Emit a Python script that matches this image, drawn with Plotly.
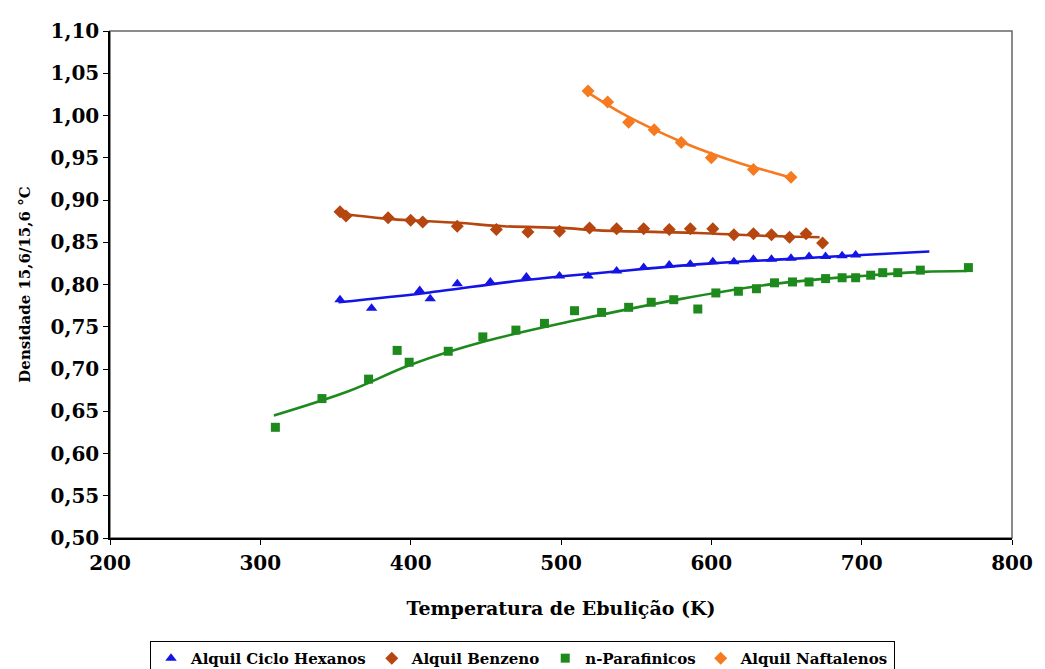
import plotly.graph_objects as go

# Alquil Ciclo Hexanos (triangles)
ach_x = [353, 374, 406, 413, 431, 453, 477, 499, 518, 537, 555, 572, 586, 601, 615, 628, 640, 653, 665, 676, 687, 696]
ach_y = [0.782, 0.772, 0.793, 0.783, 0.801, 0.803, 0.809, 0.810, 0.810, 0.816, 0.820, 0.823, 0.824, 0.827,
         0.827, 0.830, 0.830, 0.831, 0.833, 0.833, 0.834, 0.835]
ach_fit_x = [352, 410, 475, 540, 600, 650, 700, 745]
ach_fit_y = [0.779, 0.790, 0.805, 0.816, 0.825, 0.830, 0.835, 0.839]

# Alquil Benzeno (diamonds)
ab_x = [353, 357, 385, 400, 408, 431, 457, 478, 499, 519, 537, 555, 572, 586, 601, 615, 628, 640, 652, 663, 674]
ab_y = [0.886, 0.881, 0.879, 0.876, 0.874, 0.869, 0.865, 0.862, 0.863, 0.867, 0.866, 0.866, 0.865, 0.866,
        0.866, 0.859, 0.860, 0.859, 0.856, 0.860, 0.849]
ab_fit_x = [353, 383, 431, 462, 501, 525, 591, 630, 672]
ab_fit_y = [0.884, 0.878, 0.873, 0.869, 0.867, 0.864, 0.861, 0.858, 0.856]

# n-Parafinicos (squares)
np_x = [310, 341, 372, 391, 399, 425, 448, 470, 489, 509, 527, 545, 560, 575, 591, 603, 618, 630, 642,
        654, 665, 676, 687, 696, 706, 714, 724, 739, 771]
np_y = [0.631, 0.665, 0.688, 0.722, 0.708, 0.721, 0.738, 0.746, 0.754, 0.769, 0.767, 0.773, 0.779, 0.782,
        0.771, 0.790, 0.792, 0.795, 0.802, 0.803, 0.803, 0.807, 0.808, 0.808, 0.811, 0.814, 0.814, 0.817, 0.820]
np_fit_x = [309, 359, 400, 450, 508, 580, 643, 706, 741, 770]
np_fit_y = [0.645, 0.674, 0.705, 0.733, 0.757, 0.783, 0.801, 0.811, 0.815, 0.816]

# Alquil Naftalenos (diamonds, orange)
an_x = [518, 531, 545, 562, 580, 600, 628, 653]
an_y = [1.029, 1.016, 0.992, 0.983, 0.968, 0.950, 0.936, 0.927]
an_fit_x = [518, 540, 560, 580, 600, 620, 640, 653]
an_fit_y = [1.027, 1.003, 0.985, 0.969, 0.955, 0.943, 0.933, 0.926]

BLUE = "#1414e6"
BROWN = "#b5460f"
GREEN = "#1e8a1e"
ORANGE = "#f57a20"

FONT = "DejaVu Serif"

fig = go.Figure()

series = [
    ("Alquil Ciclo Hexanos", ach_x, ach_y, ach_fit_x, ach_fit_y, BLUE, "triangle-up", 10),
    ("Alquil Benzeno", ab_x, ab_y, ab_fit_x, ab_fit_y, BROWN, "diamond", 10),
    ("n-Parafinicos", np_x, np_y, np_fit_x, np_fit_y, GREEN, "square", 9),
    ("Alquil Naftalenos", an_x, an_y, an_fit_x, an_fit_y, ORANGE, "diamond", 10),
]

for name, x, y, fx, fy, col, sym, sz in series:
    fig.add_trace(go.Scatter(x=fx, y=fy, mode="lines", line=dict(color=col, width=2.6, shape="spline"),
                             showlegend=False, hoverinfo="skip"))
for name, x, y, fx, fy, col, sym, sz in series:
    fig.add_trace(go.Scatter(x=x, y=y, mode="markers", name=name,
                             marker=dict(symbol=sym, size=sz, color=col, line=dict(width=0))))

fig.update_layout(
    width=1045, height=669,
    margin=dict(l=110, r=19, t=31, b=131),
    paper_bgcolor="white", plot_bgcolor="white",
    separators=",.",
    font=dict(family=FONT, color="black", size=16, weight="bold"),
    showlegend=True,
    legend=dict(orientation="h", xref="container", yref="container", x=0.5, xanchor="center",
                y=0.042, yanchor="top", bordercolor="black", borderwidth=1, bgcolor="white",
                font=dict(family=FONT, size=15, weight="bold"), itemwidth=30,
                tracegroupgap=0),
    xaxis=dict(range=[200, 800], dtick=100, tick0=200, showgrid=False, zeroline=False,
               showline=True, linecolor="black", linewidth=1.5, ticks="outside", ticklen=5,
               tickcolor="black", ticklabelstandoff=1, ticklabeloverflow="allow",
               tickfont=dict(family=FONT, size=20, weight="bold"),
               title=dict(text="Temperatura de Ebulição (K)", font=dict(family=FONT, size=19, weight="bold"),
                          standoff=28)),
    yaxis=dict(range=[0.5, 1.10], dtick=0.05, tick0=0.5, tickformat=".2f", showgrid=False, zeroline=False,
               showline=True, linecolor="black", linewidth=1.5, ticks="outside", ticklen=5,
               tickcolor="black", ticklabeloverflow="allow",
               tickfont=dict(family=FONT, size=20, weight="bold"),
               title=dict(text="Densidade 15,6/15,6 °C", font=dict(family=FONT, size=15, weight="bold"),
                          standoff=16)),
    shapes=[dict(type="rect", xref="paper", yref="paper", x0=0, y0=0, x1=1, y1=1,
                 line=dict(color="#666666", width=1.5), layer="below")],
)

fig.write_html("out.html")
